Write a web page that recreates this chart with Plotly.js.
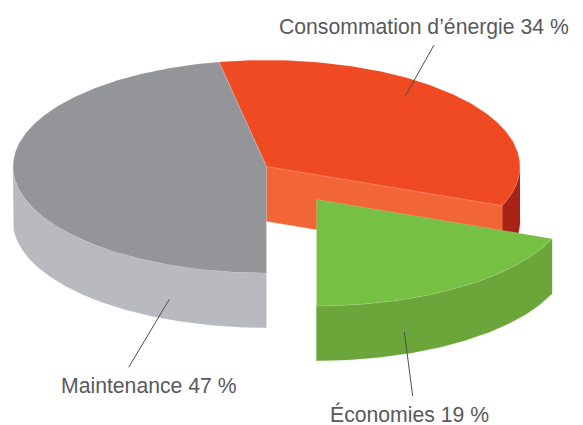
<!DOCTYPE html>
<html>
<head>
<meta charset="utf-8">
<script src="https://cdn.plot.ly/plotly-3.0.1.min.js"></script>
<style>html,body{margin:0;padding:0;background:#fff;}#chart{width:583px;height:425px;}</style>
</head>
<body>
<div id="chart"></div>
<script>
// Data
const categories = ["Maintenance", "Consommation d’énergie", "Économies"];
const values = [47, 34, 19];
const labels = ["Maintenance 47 %", "Consommation d’énergie 34 %", "Économies 19 %"];
const topColors = ["#939598", "#F04A23", "#76C044"];
const wallColors = ["#B9BABF", "#A92218", "#6CA63A"];
const cutColor = "#F26636";

// Projection of the tilted pie into the pixel-sized axes
const cx = 266.5, cy = 166.5, rx = 253.5, ry = 106.5, depth = 54.7;
const explodeX = [0, 0, 50], explodeY = [0, 0, 33];
const startAngle = 90;

const rad = d => d * Math.PI / 180;
const arc = (ox, oy, a, b, dz) => {
  const xs = [], ys = [], n = Math.max(2, Math.ceil(Math.abs(b - a) * 2));
  for (let i = 0; i <= n; i++) {
    const t = rad(a + (b - a) * i / n);
    xs.push(ox + rx * Math.cos(t));
    ys.push(oy + ry * Math.sin(t) + dz);
  }
  return [xs, ys];
};
const poly = (name, xs, ys, color, edge) => ({
  type: "scatter", mode: "lines", x: xs, y: ys, fill: "toself", fillcolor: color, name,
  line: edge ? {color: edge, width: 0.6} : {color: color, width: 0.3},
  hoverinfo: "name", showlegend: false
});

const total = values.reduce((s, v) => s + v, 0);
let angle = startAngle;
const slices = values.map((v, i) => {
  const a = angle, b = angle + v / total * 360;
  angle = b;
  return {i, a, b, ox: cx + explodeX[i], oy: cy + explodeY[i]};
});

function wallFace(s) {
  // only the part of the rim facing the viewer: angles 0–180 (mod 360)
  const parts = [];
  [0, 360].forEach(k => {
    const a = Math.max(s.a, k), b = Math.min(s.b, k + 180);
    if (b > a) {
      const [tx, ty] = arc(s.ox, s.oy, a, b, 0);
      const [bx, by] = arc(s.ox, s.oy, b, a, depth);
      parts.push(poly(categories[s.i], tx.concat(bx), ty.concat(by), wallColors[s.i]));
    }
  });
  return parts;
}
function topFace(s) {
  const [x, y] = arc(s.ox, s.oy, s.a, s.b, 0);
  return poly(categories[s.i], [s.ox].concat(x, [s.ox]), [s.oy].concat(y, [s.oy]), topColors[s.i], "rgba(255,255,255,0.25)");
}
function cutFace(s) {
  const t = rad(s.b);
  const ex = s.ox + rx * Math.cos(t), ey = s.oy + ry * Math.sin(t);
  return poly(categories[s.i], [s.ox, ex, ex, s.ox, s.ox], [s.oy, ey, ey + depth, s.oy + depth, s.oy], cutColor);
}

const [sliceG, sliceO, sliceE] = slices;
const traces = [
  ...wallFace(sliceG), ...wallFace(sliceO), cutFace(sliceO), topFace(sliceO), topFace(sliceG),
  ...wallFace(sliceE), topFace(sliceE)
];

const leaderColor = "#4D4D4F";
const leader = (x0, y0, x1, y1) => ({type: "line", xref: "x", yref: "y", x0, y0, x1, y1, line: {color: leaderColor, width: 1}});
const note = (text, x, y) => ({text, x, y, xref: "x", yref: "y", xanchor: "center", yanchor: "middle", showarrow: false,
  borderpad: 0, borderwidth: 0,
  font: {family: "Liberation Sans, Arial, sans-serif", size: 21.2, color: "#58595B"}});

const layout = {
  width: 583, height: 425, margin: {l: 0, r: 0, t: 0, b: 0},
  paper_bgcolor: "#fff", plot_bgcolor: "#fff", showlegend: false,
  xaxis: {range: [0, 583], visible: false, fixedrange: true},
  yaxis: {range: [425, 0], visible: false, fixedrange: true},
  shapes: [leader(434, 45, 405, 96.7), leader(169.3, 299.3, 128.7, 367.3), leader(404.3, 331.7, 412.7, 396)],
  annotations: [note(labels[1], 424, 27), note(labels[0], 149, 385), note(labels[2], 409.5, 413.5)]
};
Plotly.newPlot("chart", traces, layout, {displayModeBar: false, staticPlot: true});
</script>
</body>
</html>
